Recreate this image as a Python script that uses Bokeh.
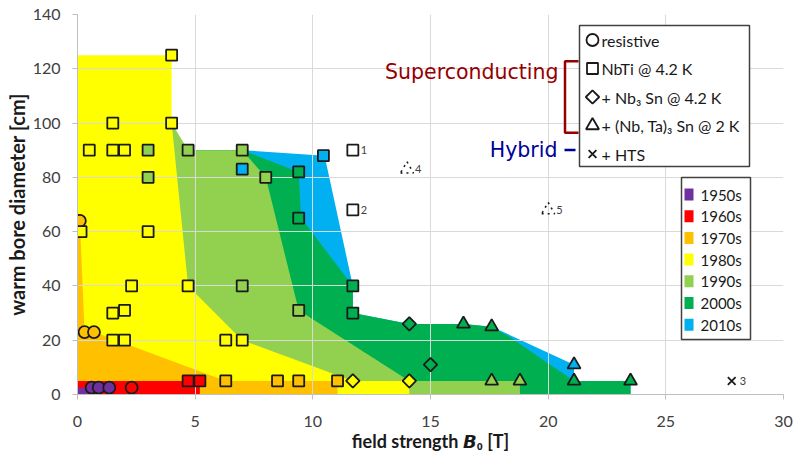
import numpy as np
from bokeh.plotting import figure
from bokeh.models import Range1d, Label, FixedTicker
from bokeh.embed import file_html
from bokeh.resources import INLINE
from bokeh.core.properties import value

# ---------------- data ----------------
decades = ["1950s", "1960s", "1970s", "1980s", "1990s", "2000s", "2010s"]
decade_colors = ["#7030A0", "#FF0000", "#FFC000", "#FFFF00", "#92D050", "#00B050", "#00B0F0"]

# envelope of reached (field, bore) per decade
env_1950s_x = [0, 0, 0.66, 0.66]
env_1950s_y = [0, 2.5, 2.5, 0]
env_1960s_x = [0, 0, 5.2, 5.2]
env_1960s_y = [0, 5, 5, 0]
env_1970s_x = [0, 0, 0.1, 0.3, 0.7, 6.3, 11.05, 11.05]
env_1970s_y = [0, 64, 64, 23, 23, 5, 5, 0]
env_1980s_x = [0, 0, 4, 4, 4.7, 7, 11.7, 14.1, 14.1]
env_1980s_y = [0, 125, 125, 100, 40, 20, 5, 5, 0]
env_1990s_x = [0, 0, 4, 4.7, 7, 8, 9.4, 14.1, 18.8, 18.8]
env_1990s_y = [0, 100, 100, 90, 90, 80, 31, 5, 5, 0]
env_2000s_x = [0, 0, 7, 9.4, 9.5, 11.7, 11.7, 14.1, 16.4, 17.6, 18.4, 21.1, 23.5, 23.5]
env_2000s_y = [0, 90, 90, 82, 65, 40, 30, 26, 26, 25, 21, 5, 5, 0]
env_2010s_x = [0, 0, 7, 10.5, 11.7, 11.7, 14.1, 16.4, 17.6, 21.1, 21.1, 23.5, 23.5]
env_2010s_y = [0, 90, 90, 88, 40, 30, 26, 26, 25, 11, 5, 5, 0]

# resistive magnets (circles)
circ_x = [0.6, 0.9, 1.35, 2.3, 0.0, 0.1, 0.3, 0.7]
circ_y = [2.5, 2.5, 2.5, 2.5, 64, 64, 23, 23]
circ_dec = ["1950s"] * 3 + ["1960s"] + ["1970s"] * 4

# NbTi @ 4.2 K (squares)
sq_x = [4.7, 5.2,
        6.3, 8.5, 9.4, 11.05,
        4, 4, 1.5, 0.5, 1.5, 2, 0.15, 3, 2.3, 4.7, 1.5, 2, 1.5, 2, 6.3, 7,
        3, 3, 4.7, 7, 8, 7, 9.4,
        9.4, 9.4, 11.7, 11.7,
        7, 10.45]
sq_y = [5, 5,
        5, 5, 5, 5,
        125, 100, 100, 90, 90, 90, 60, 60, 40, 40, 30, 31, 20, 20, 20, 20,
        90, 80, 90, 90, 80, 40, 31,
        82, 65, 40, 30,
        83, 88]
sq_dec = ["1960s"] * 2 + ["1970s"] * 4 + ["1980s"] * 16 + ["1990s"] * 7 + ["2000s"] * 4 + ["2010s"] * 2

# + Nb3Sn @ 4.2 K (diamonds)
dia_x = [11.7, 14.1, 14.1, 15.0]
dia_y = [5, 5, 26, 11]
dia_dec = ["1980s", "1980s", "2000s", "2000s"]

# + (Nb,Ta)3Sn @ 2 K (triangles)
tri_x = [17.6, 18.8, 16.4, 17.6, 21.1, 23.5, 21.1]
tri_y = [5, 5, 26, 25, 5, 5, 11]
tri_dec = ["1990s", "1990s", "2000s", "2000s", "2000s", "2000s", "2010s"]

# numbered magnets (unfilled / planned)
num_sq_x = [11.7, 11.7]
num_sq_y = [90, 68]
num_sq_lab = ["1", "2"]
hts_x = [27.8]
hts_y = [5]
hts_lab = ["3"]
num_tri_x = [14.0, 20.0]
num_tri_y = [83, 68]
num_tri_lab = ["4", "5"]

legend_texts = ["resistive", "NbTi @ 4.2 K", "+ Nb\u2083 Sn @ 4.2 K", "+ (Nb, Ta)\u2083 Sn @ 2 K", "+ HTS"]

x_ticks = [0, 5, 10, 15, 20, 25, 30]
y_ticks = [0, 20, 40, 60, 80, 100, 120, 140]

# ---------------- styling helpers ----------------
cmap = dict(zip(decades, decade_colors))
FONT = "Lato"
# page-pixel -> data helpers for annotation placement (frame 77..783 x 14..394)
FX0, FX1, FY0, FY1 = 77.0, 783.0, 394.0, 14.0
def dx(px):
    return (px - FX0) / (FX1 - FX0) * 30.0
def dy(py):
    return (FY0 - py) / (FY0 - FY1) * 140.0

p = figure(width=793, height=458, output_backend="svg", toolbar_location=None,
           x_range=Range1d(0, 30), y_range=Range1d(0, 140),
           min_border_left=77, min_border_right=10, min_border_top=14, min_border_bottom=64)
p.outline_line_color = None
p.background_fill_color = "white"

# areas: newest first, oldest on top
envs = {"1950s": (env_1950s_x, env_1950s_y), "1960s": (env_1960s_x, env_1960s_y),
        "1970s": (env_1970s_x, env_1970s_y), "1980s": (env_1980s_x, env_1980s_y),
        "1990s": (env_1990s_x, env_1990s_y), "2000s": (env_2000s_x, env_2000s_y),
        "2010s": (env_2010s_x, env_2010s_y)}
for d in reversed(decades):
    ex, ey = envs[d]
    p.patch(ex, ey, fill_color=cmap[d], line_color=None, level="image")

# axes & grid
for ax in (p.xaxis, p.yaxis):
    ax.axis_line_color = "#BFBFBF"
    ax.major_tick_line_color = "#BFBFBF"
    ax.major_tick_out = 5
    ax.major_tick_in = 0
    ax.minor_tick_line_color = None
    ax.major_label_text_font = FONT
    ax.major_label_text_font_size = "16px"
    ax.major_label_text_color = "#404040"
    ax.axis_label_text_font = FONT
    ax.axis_label_text_font_style = "bold"
    ax.axis_label_text_color = "#1a1a1a"
p.xaxis.ticker = FixedTicker(ticks=x_ticks)
p.yaxis.ticker = FixedTicker(ticks=y_ticks)
p.yaxis.major_label_standoff = 12
p.xaxis.major_label_standoff = 16
p.yaxis.axis_label = "warm bore diameter [cm]"
p.xaxis.axis_label = "field strength \U0001D63D\u2080 [T]"
p.yaxis.axis_label_text_font_size = "20px"
p.xaxis.axis_label_text_font_size = "18px"
p.yaxis.axis_label_standoff = 1
p.xaxis.axis_label_standoff = 0
p.xgrid.grid_line_color = "#D9D9D9"
p.ygrid.grid_line_color = "#D9D9D9"

# markers
lw = 1.8
p.scatter(circ_x, circ_y, marker="circle", size=12, fill_color=[cmap[d] for d in circ_dec],
          line_color="#1a1a1a", line_width=lw)
p.scatter(sq_x, sq_y, marker="square", size=11, fill_color=[cmap[d] for d in sq_dec],
          line_color="#1a1a1a", line_width=lw)
p.scatter(dia_x, dia_y, marker="square", angle=np.pi / 4, size=9.5, fill_color=[cmap[d] for d in dia_dec],
          line_color="#1a1a1a", line_width=lw)
p.scatter(tri_x, tri_y, marker="triangle", size=13, fill_color=[cmap[d] for d in tri_dec],
          line_color="#1a1a1a", line_width=lw)
p.scatter(num_sq_x, num_sq_y, marker="square", size=11, fill_color="white",
          line_color="#1a1a1a", line_width=lw)
p.scatter(hts_x, hts_y, marker="x", size=11, line_color="#1a1a1a", line_width=lw)
p.scatter(num_tri_x, num_tri_y, marker="triangle", size=13, fill_alpha=0,
          line_color="#1a1a1a", line_width=1.6, line_dash="dotted")
for xs, ys, labs in ((num_sq_x, num_sq_y, num_sq_lab), (hts_x, hts_y, hts_lab), (num_tri_x, num_tri_y, num_tri_lab)):
    p.text(xs, ys, text=labs, x_offset=8, text_align="left", text_baseline="middle",
           text_font=value(FONT), text_font_size="11px", text_color="#404040")

# ---------- marker-type legend ----------
p.quad(left=[dx(579)], right=[dx(749)], top=[dy(25)], bottom=[dy(166)],
       fill_color="white", line_color="#404040", line_width=1.5)
rows = [39.5 + 28.5 * i for i in range(5)]
mx = dx(592)
p.scatter([mx], [dy(rows[0])], marker="circle", size=12, fill_alpha=0, line_color="#1a1a1a", line_width=lw)
p.scatter([mx], [dy(rows[1])], marker="square", size=11, fill_alpha=0, line_color="#1a1a1a", line_width=lw)
p.scatter([mx], [dy(rows[2])], marker="square", angle=np.pi / 4, size=9.5, fill_alpha=0, line_color="#1a1a1a", line_width=lw)
p.scatter([mx], [dy(rows[3])], marker="triangle", size=13, fill_alpha=0, line_color="#1a1a1a", line_width=lw)
p.scatter([mx], [dy(rows[4])], marker="x", size=11, line_color="#1a1a1a", line_width=lw)
for t, r in zip(legend_texts, rows):
    p.add_layout(Label(x=dx(601), y=dy(r), text=t, text_font=FONT, text_font_size="16px",
                       text_baseline="middle", text_align="left", text_color="#1a1a1a"))

# bracket + group labels
brc = "#960000"
p.line([dx(578), dx(564.5), dx(564.5), dx(578)], [dy(60.7), dy(60.7), dy(132.3), dy(132.3)],
       line_color=brc, line_width=2.5)
p.add_layout(Label(x=dx(558), y=dy(71.5), text="Superconducting", text_font="DejaVu Sans",
                   text_font_size="20.5px", text_align="right", text_baseline="alphabetic", text_color=brc))
p.line([dx(564), dx(575)], [dy(149.5), dy(149.5)], line_color="#000099", line_width=2.5)
p.add_layout(Label(x=dx(557), y=dy(149), text="Hybrid", text_font="DejaVu Sans",
                   text_font_size="20.5px", text_align="right", text_baseline="alphabetic", text_color="#000099"))

# ---------- decade legend ----------
p.quad(left=[dx(681)], right=[dx(750)], top=[dy(177)], bottom=[dy(339)],
       fill_color="white", line_color="#404040", line_width=1.5)
for i, d in enumerate(decades):
    yc = 194 + 21.7 * i
    p.quad(left=[dx(684)], right=[dx(693)], top=[dy(yc - 6)], bottom=[dy(yc + 6)],
           fill_color=cmap[d], line_color=None)
    p.add_layout(Label(x=dx(700), y=dy(yc), text=d, text_font=FONT, text_font_size="15px",
                       text_baseline="middle", text_align="left", text_color="#1a1a1a"))

open("out.html", "w").write(file_html(p, INLINE))
